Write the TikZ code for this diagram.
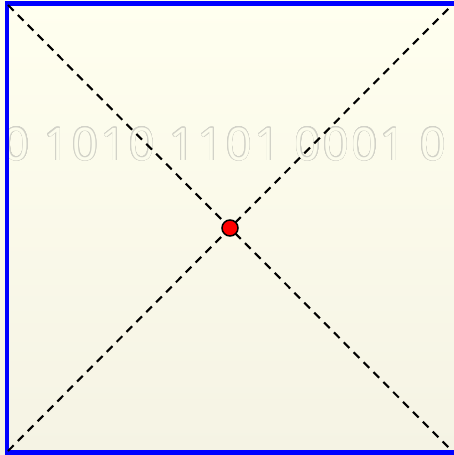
\documentclass[tikz,border=0pt]{standalone}
\usepackage{fontspec}
\usepackage[copies]{contour}
\newfontfamily\bitsfont[LetterSpace=6]{Open Sans}
\usetikzlibrary{positioning}
\definecolor{paperTop}{HTML}{FFFFEF}
\definecolor{paperBot}{HTML}{F5F3E4}
\definecolor{paperMid}{HTML}{FCFCEC}
\definecolor{frameBlue}{HTML}{0000FF}
\definecolor{bitsGray}{HTML}{D2D2C8}
\contourlength{0.55pt}
\contournumber{24}

\begin{document}
\begin{tikzpicture}[x=1pt,y=-1pt,
  frame/.style={draw=frameBlue,line width=4.5pt},
  diag/.style={draw=black,line width=2.1pt,dash pattern=on 8pt off 6pt},
  hubdot/.style={circle,fill=red,draw=black,line width=1.5pt,minimum size=16pt,inner sep=0pt}]
\useasboundingbox (0,0) rectangle (454,455);
\begin{scope}
\clip (0,0) rectangle (454,455);
% paper
\shade[top color=paperTop,bottom color=paperBot] (0,0) rectangle (454,455);
% watermark bits
\node[font=\bitsfont\fontsize{45}{45}\selectfont,anchor=base,inner sep=0pt] (bits) at (225,160)
  {\contour{bitsGray}{\textcolor{paperMid}{0 1010 1101 0001 0}}};
% frame
\draw[frame] (7,3.5) rectangle (456,452.5);
\end{scope}
% corners
\coordinate (tl) at (8,5);
\coordinate (tr) at (452,5);
\coordinate (bl) at (8,451);
\coordinate (br) at (452,451);
\draw[diag] (tl) -- (br);
\draw[diag] (bl) -- (tr);
\node[hubdot] (hub) at (230,228) {};
\end{tikzpicture}
\end{document}
